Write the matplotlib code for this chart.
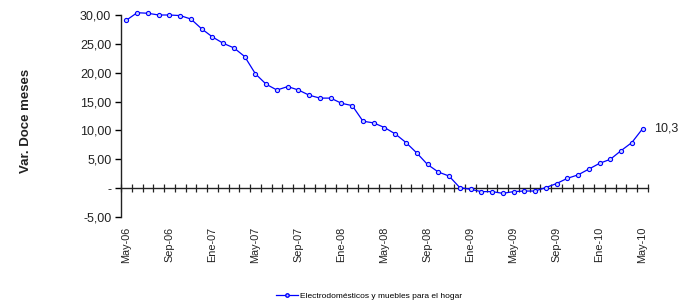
import numpy as np
import matplotlib
matplotlib.use("Agg")
import matplotlib.pyplot as plt
from matplotlib.lines import Line2D

plt.rcParams["font.family"] = ["Liberation Sans", "DejaVu Sans"]

# monthly series, May-06 .. May-10
MONTHS = ["May", "Jun", "Jul", "Ago", "Sep", "Oct", "Nov", "Dic", "Ene", "Feb", "Mar", "Abr"]
dates = [f"{MONTHS[i % 12]}-{(6 + (i + 4) // 12):02d}" for i in range(49)]
values = [29.1, 30.4, 30.3, 30.0, 30.0, 29.9, 29.3, 27.6, 26.2, 25.1,
          24.3, 22.8, 19.8, 18.0, 17.0, 17.6, 17.0, 16.1, 15.6, 15.6,
          14.7, 14.3, 11.6, 11.3, 10.5, 9.4, 7.9, 6.1, 4.1, 2.8,
          2.1, 0.1, -0.2, -0.6, -0.6, -0.9, -0.6, -0.5, -0.5, 0.1,
          0.8, 1.7, 2.3, 3.3, 4.3, 5.0, 6.5, 7.9, 10.3]
series_name = "Electrodomésticos y muebles para el hogar"
yticks = [-5, 0, 5, 10, 15, 20, 25, 30]

BLUE = "#0000ff"
INK = "#222222"

fig = plt.figure(figsize=(6.81, 3.03), dpi=100)
ax = fig.add_axes([0.1777, 0.2838, 0.9515 - 0.1777, 0.9505 - 0.2838])

x = np.arange(len(values))
ax.plot(x, values, color=BLUE, lw=0.9, marker="o", ms=3.0, mfc="#c8d0ff",
        mec=BLUE, mew=0.8, clip_on=False, zorder=3)
ax.text(x[-1] + 1.1, values[-1], f"{values[-1]:.1f}".replace(".", ","),
        fontsize=9, va="center", ha="left", color=INK)

ax.set_xlim(-0.5, len(values) - 0.5)
ax.set_ylim(-5, 30)

# y axis
ax.set_yticks(yticks)
ax.set_yticklabels([("-" if v == 0 else f"{v:.2f}".replace(".", ",")) for v in yticks],
                   fontsize=9, color=INK)
ax.tick_params(axis="y", direction="out", length=4, width=1, pad=3)
ax.spines["left"].set_linewidth(1)
ax.spines["left"].set_color(INK)
for s in ("top", "right"):
    ax.spines[s].set_visible(False)

# x axis line at zero with crossing category ticks
ax.spines["bottom"].set_position(("data", 0))
ax.spines["bottom"].set_linewidth(1)
ax.spines["bottom"].set_color(INK)
ax.set_xticks(np.arange(-0.5, len(values), 1.0))
ax.set_xticklabels([])
ax.tick_params(axis="x", direction="inout", length=6, width=0.9, color=INK)

# category labels along the bottom of the plot
ax2 = ax.twiny()
ax2.set_position(ax.get_position())
ax2.set_xlim(ax.get_xlim())
ax2.xaxis.set_ticks_position("bottom")
ax2.xaxis.set_label_position("bottom")
ax2.set_xticks(x[::4])
ax2.set_xticklabels(dates[::4], rotation=90, fontsize=7.8, color=INK)
ax2.tick_params(axis="x", length=0, pad=7)
for s in ax2.spines.values():
    s.set_visible(False)

fig.text(0.038, 0.6, "Var. Doce meses", rotation=90, fontsize=9.5, fontweight="bold",
         ha="center", va="center", color=INK)

handle = Line2D([], [], color=BLUE, lw=0.9, marker="o", ms=2.5, mfc="#c8d0ff", mec=BLUE)
fig.legend(handles=[handle], labels=[series_name], loc="center",
           bbox_to_anchor=(0.542, 0.022), frameon=False, fontsize=6,
           handlelength=2.6, handletextpad=0.2)

fig.savefig("out.png", dpi=100, facecolor="white")
